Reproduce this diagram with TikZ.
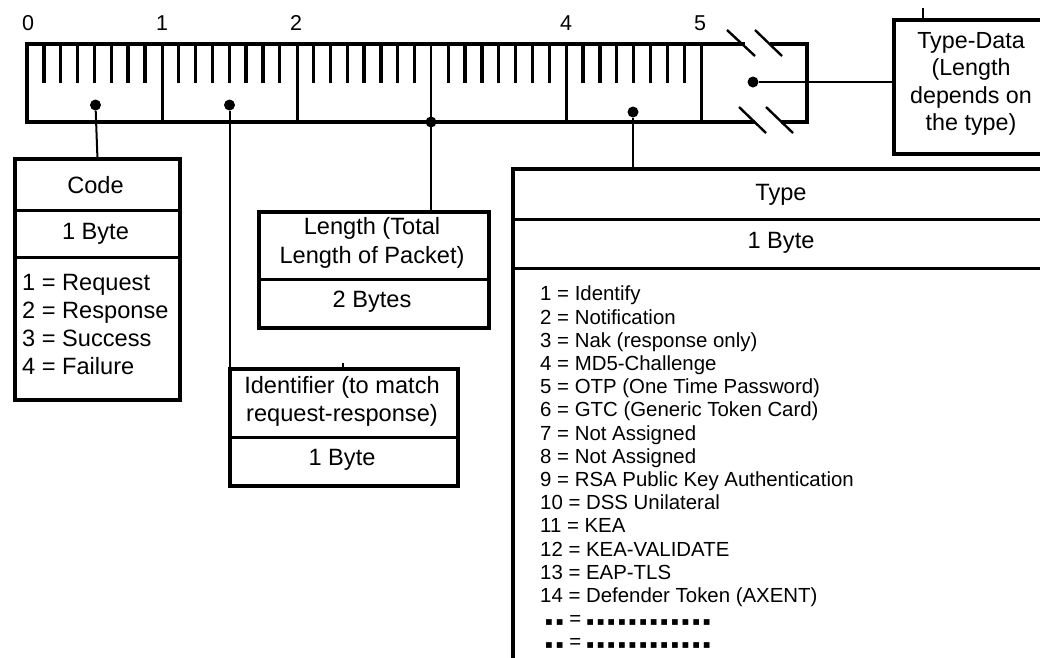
\documentclass[tikz,border=0pt]{standalone}
\usepackage{fontspec}
\setmainfont{Liberation Sans}
\newfontfamily\symfont{DejaVu Sans}
\newcommand\bigdots[1]{{\symfont\fontsize{11.5}{20}\selectfont\foreach\i in {1,...,#1}{▪\kern2.8pt}}}
\begin{document}
\begin{tikzpicture}[x=1pt,y=-1pt,
  rul/.style={line width=3.6pt},
  divl/.style={line width=3pt},
  tickl/.style={line width=3.3pt},
  box/.style={draw, line width=3.8pt, inner sep=0, anchor=north west},
  sepl/.style={line width=3pt},
  conn/.style={line width=2pt},
  dotn/.style={circle, fill, inner sep=0, minimum size=11pt},
  brk/.style={line width=2.4pt},
  lbl/.style={font=\fontsize{21.5}{22}\selectfont, inner sep=0},
  txt/.style={font=\fontsize{23.6}{28.5}\selectfont, inner sep=0, align=center},
]
\useasboundingbox (0,0) rectangle (1040,657);
\clip (0,0) rectangle (1040,657);

% ruler
\coordinate (rA) at (27,44);
\coordinate (rB) at (807,122);
\draw[rul] (745,44) -- (rA) -- (27,122) -- (755,122);
\draw[rul] (781,122) -- (rB) -- (807,44) -- (770,44);
\foreach \x in {162,297,566,701} \draw[divl] (\x,44) -- (\x,122);
\foreach \b in {0,...,4}
  \foreach \k in {1,...,7}
    \draw[tickl] ({27+\b*134.8+\k*16.85},44) -- ++(0,39);
% break marks
\draw[brk] (727,30) -- (755,56);
\draw[brk] (755,30) -- (782,56);
\draw[brk] (739,107) -- (766,133);
\draw[brk] (766,107) -- (793,133);

% ruler labels
\node[lbl] (l0) at (28,23) {0};
\node[lbl] (l1) at (162,23) {1};
\node[lbl] (l2) at (296,23) {2};
\node[lbl] (l4) at (566,23) {4};
\node[lbl] (l5) at (700,23) {5};

% dots
\node[dotn] (dcode) at (95.5,105) {};
\node[dotn] (did) at (229.5,105) {};
\node[dotn] (dlen) at (431,122) {};
\node[dotn] (dtype) at (633,112) {};
\node[dotn] (dtd) at (753,82) {};

% Code box
\node[box, minimum width=165, minimum height=241] (code) at (13,157) {};
\draw[sepl] (code.west |- 0,210) -- (code.east |- 0,210);
\draw[sepl] (code.west |- 0,257) -- (code.east |- 0,257);
\node[txt] (codeA) at (95.5,185) {Code};
\node[txt] (codeB) at (95.5,234) {1 Byte};
\node[txt, anchor=west, align=left, font=\fontsize{23.6}{28}\selectfont] (codeC) at (22,324)
  {1 = Request\\2 = Response\\3 = Success\\4 = Failure};

% Length box
\node[box, minimum width=230, minimum height=116] (len) at (257,210) {};
\draw[sepl] (len.west |- 0,279) -- (len.east |- 0,279);
\node[txt] (lenA) at (372,243) {Length (Total\\Length of Packet)};
\node[txt] (lenB) at (372,302) {2 Bytes};

% Identifier box
\node[box, minimum width=228, minimum height=117] (ident) at (228,367) {};
\draw[sepl] (ident.west |- 0,437) -- (ident.east |- 0,437);
\node[txt, font=\fontsize{23.6}{28}\selectfont] (idA) at (342,401) {Identifier (to match\\request-response)};
\node[txt] (idB) at (342,460) {1 Byte};
\draw[conn] (343,363) -- (343,367);

% Type box
\node[box, minimum width=541, minimum height=540] (type) at (511,167) {};
\draw[sepl] (type.west |- 0,219) -- (type.east |- 0,219);
\draw[sepl] (type.west |- 0,268) -- (type.east |- 0,268);
\node[txt] (tyA) at (781,195) {Type};
\node[txt] (tyB) at (781,243) {1 Byte};
\node[inner sep=0, anchor=north west, align=left, font=\fontsize{20.4}{23.2}\selectfont] (tlist) at (540,286)
  {1 = Identify\\
   2 = Notification\\
   3 = Nak (response only)\\
   4 = MD5-Challenge\\
   5 = OTP (One Time Password)\\
   6 = GTC (Generic Token Card)\\
   7 = Not Assigned\\
   8 = Not Assigned\\
   9 = RSA Public Key Authentication\\
   10 = DSS Unilateral\\
   11 = KEA\\
   12 = KEA-VALIDATE\\
   13 = EAP-TLS\\
   14 = Defender Token (AXENT)\\
   \kern5pt\bigdots{2}\kern3pt=\kern5pt\bigdots{12}\\
   \kern5pt\bigdots{2}\kern3pt=\kern5pt\bigdots{12}};

% Type-Data box
\node[box, minimum width=158, minimum height=134] (td) at (892,18) {};
\node[txt, font=\fontsize{23.3}{27.3}\selectfont] (tdA) at (971,84) {Type-Data\\(Length\\depends on\\the type)};
\draw[conn] (923,8) -- (923,18);

% connectors
\draw[conn] (dcode) -- (code.north);
\draw[conn] (did) -- (did |- ident.north);
\draw[conn] (dlen |- 0,44) -- (dlen |- len.north);
\draw[conn] (dtype) -- (dtype |- type.north);
\draw[conn] (dtd) -- (dtd -| td.west);
\end{tikzpicture}
\end{document}
